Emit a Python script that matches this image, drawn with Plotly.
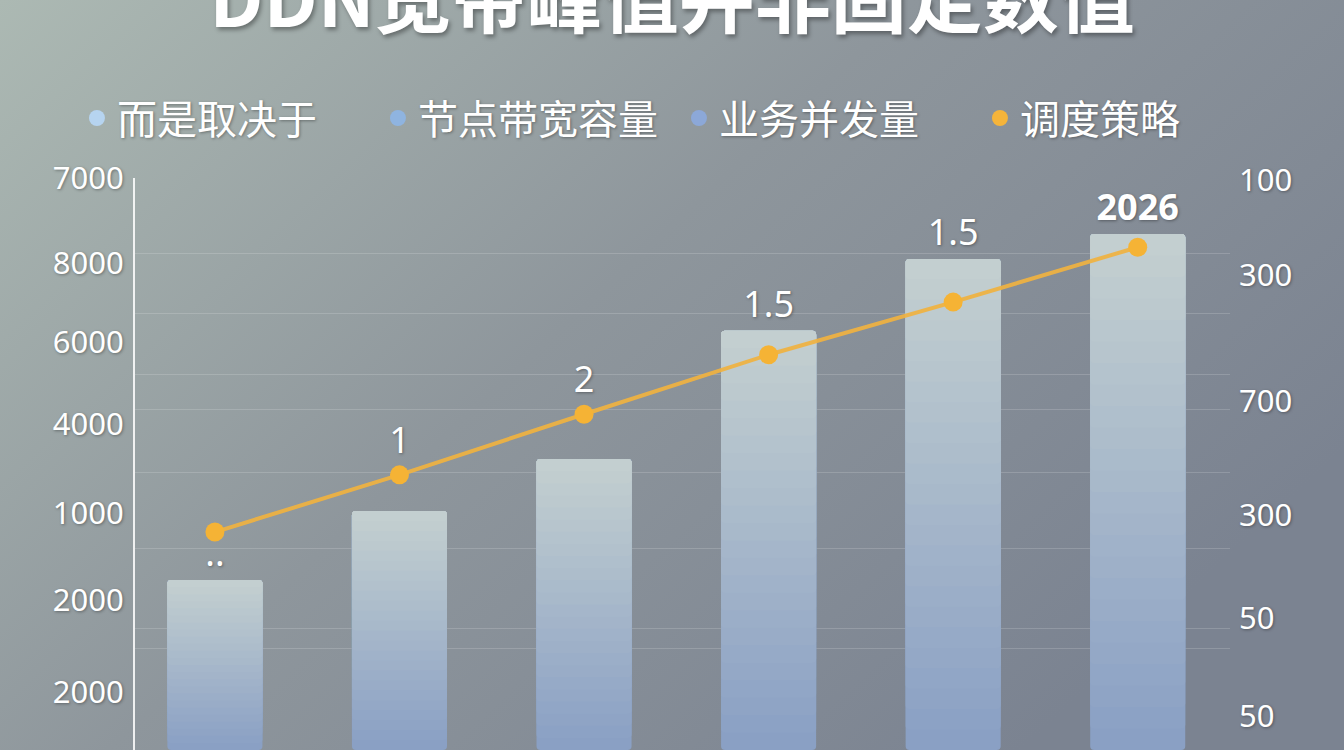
import base64
import plotly.graph_objects as go

# categories (x labels are cut off in the reference, bars are in time order)
years = ['2021', '2022', '2023', '2024', '2025', '2026']
bar_values = [2080, 2925, 3560, 5130, 6010, 6315]
line_values = [38.1, 48.1, 58.7, 69.1, 78.3, 87.9]
bar_labels = ['..', '', '', '1.5', '1.5', '<b>2026</b>']
point_labels = ['', '1', '2', '', '', '']

legend_names = ['而是取决于', '节点带宽容量', '业务并发量', '调度策略']
legend_colors = ['#b6d4f0', '#8fb4e0', '#8ca8d8', '#f5b43a']

left_tick_vals = [7000, 5960, 4990, 3990, 2900, 1840, 710]
left_tick_text = ['7000', '8000', '6000', '4000', '1000', '2000', '2000']
right_tick_vals = [99.7, 83, 61, 41, 23, 6]
right_tick_text = ['100', '300', '700', '300', '50', '50']
grid_vals = [7000, 6080, 5340, 4590, 4170, 3400, 2470, 1490, 1240]

W, H = 1344, 750
ML, MR, MT, MB = 135, 114, 178, 0
FONT = 'Noto Sans, Noto Sans CJK SC, sans-serif'
CJK = 'Noto Sans CJK SC, sans-serif'
SHADOW = '1px 1px 3px rgba(0,0,0,0.35)'


def mix(c1, c2, t):
  a = [int(c1[i:i + 2], 16) for i in (1, 3, 5)]
  b = [int(c2[i:i + 2], 16) for i in (1, 3, 5)]
  return 'rgb(%d,%d,%d)' % tuple(round(a[i] + (b[i] - a[i]) * t) for i in range(3))


bg_svg = (
  '<svg xmlns="http://www.w3.org/2000/svg" width="100" height="100" '
  'viewBox="0 0 100 100" preserveAspectRatio="none">'
  '<defs><linearGradient id="g" x1="0" y1="0" x2="1" y2="0.6">'
  '<stop offset="0" stop-color="#acb9b3"/>'
  '<stop offset="0.5" stop-color="#8e969c"/>'
  '<stop offset="1" stop-color="#7b8391"/>'
  '</linearGradient></defs>'
  '<rect width="100" height="100" fill="url(#g)"/></svg>'
)
bg_src = 'data:image/svg+xml;base64,' + base64.b64encode(bg_svg.encode()).decode()

x = list(range(len(years)))
data = []

# bars drawn as stacked overlay layers to fake a vertical gradient
layers = 24
for k in range(layers):
  t = k / (layers - 1)
  data.append(
    go.Bar(
      x=x,
      y=[v * (1 - k / layers) for v in bar_values],
      base=[v * k / layers for v in bar_values],
      width=0.515,
      marker=dict(color=mix('#8aa0c4', '#c3cfd0', t), line=dict(width=0)),
      text=bar_labels if k == layers - 1 else None,
      textposition='outside',
      textfont=dict(family=FONT, size=36, color='white', shadow=SHADOW),
      cliponaxis=False,
      showlegend=False,
      hoverinfo='skip',
    )
  )

data.append(
  go.Scatter(
    x=x,
    y=line_values,
    yaxis='y2',
    mode='lines+markers+text',
    text=point_labels,
    textposition='top center',
    textfont=dict(family=FONT, size=36, color='white', shadow=SHADOW),
    line=dict(color='rgba(240,178,64,0.92)', width=4),
    marker=dict(color='#f5b335', size=19),
    showlegend=False,
    cliponaxis=False,
  )
)

for name, color in zip(legend_names, legend_colors):
  data.append(
    go.Scatter(
      x=[None], y=[None], mode='markers', name=name,
      marker=dict(color=color, size=16),
    )
  )

fig = go.Figure(data=data)

fig.update_layout(
  width=W,
  height=H,
  margin=dict(l=ML, r=MR, t=MT, b=MB),
  paper_bgcolor='#8e969c',
  plot_bgcolor='rgba(0,0,0,0)',
  barmode='overlay',
  barcornerradius=4,
  font=dict(family=FONT, color='white'),
  title=dict(
    text='<b>DDN宽带峰值并非固定数值</b>',
    x=0.5, xanchor='center', xref='container',
    y=1.0, yanchor='middle', yref='container',
    font=dict(family=CJK, size=76, color='white', shadow='2px 3px 4px rgba(0,0,0,0.35)'),
  ),
  legend=dict(
    orientation='h',
    x=-0.053, xanchor='left',
    y=(H - 118 - MB) / (H - MT - MB), yanchor='middle', yref='paper',
    font=dict(family=CJK, size=40, color='white', shadow=SHADOW),
    entrywidth=256,
    bgcolor='rgba(0,0,0,0)',
  ),
  xaxis=dict(
    range=[-0.433, 5.5],
    showticklabels=False,
    showgrid=False,
    zeroline=False,
    fixedrange=True,
  ),
  yaxis=dict(
    range=[0, 7000],
    tickvals=left_tick_vals,
    ticktext=left_tick_text,
    ticks='',
    ticklabelstandoff=3,
    tickfont=dict(family=FONT, size=31, color='white', shadow=SHADOW),
    showgrid=False,
    minor=dict(tickvals=grid_vals, showgrid=True, gridcolor='rgba(255,255,255,0.16)', gridwidth=1, ticks=''),
    showline=True,
    linecolor='rgba(255,255,255,0.85)',
    linewidth=2,
    zeroline=False,
  ),
  yaxis2=dict(
    range=[0, 100],
    overlaying='y',
    side='right',
    tickvals=right_tick_vals,
    ticktext=right_tick_text,
    ticks='',
    ticklabelstandoff=8,
    tickfont=dict(family=FONT, size=31, color='white', shadow=SHADOW),
    showgrid=False,
    zeroline=False,
  ),
  images=[dict(
    source=bg_src,
    xref='paper', yref='paper',
    x=-ML / (W - ML - MR), y=1 + MT / (H - MT - MB),
    sizex=W / (W - ML - MR), sizey=H / (H - MT - MB),
    xanchor='left', yanchor='top',
    sizing='stretch',
    layer='below',
  )],
)

# drop the browser's default 8px page margin so the figure fills the window
fig.write_html(
  'out.html',
  config={'displayModeBar': False},
  post_script="document.body.style.margin='0';",
)
